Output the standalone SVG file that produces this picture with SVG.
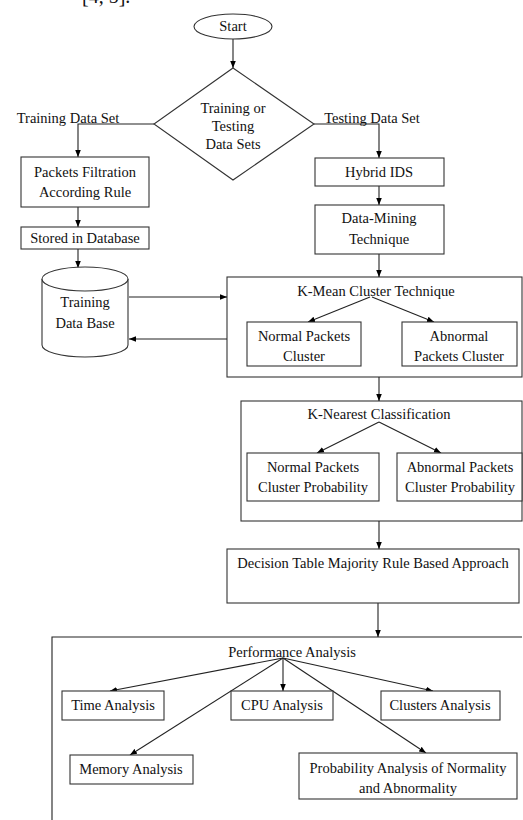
<svg xmlns="http://www.w3.org/2000/svg" width="523" height="820" viewBox="0 0 523 820">
<defs>
<marker id="ah" viewBox="0 0 10 10" refX="10" refY="5" markerWidth="7" markerHeight="7" markerUnits="userSpaceOnUse" orient="auto">
<path d="M0,1 L10,5 L0,9 z" fill="#000"/>
</marker>
<style>
.s{fill:#fff;stroke:#333;stroke-width:1.1}
.c{fill:none;stroke:#222;stroke-width:1.1}
.a{fill:none;stroke:#222;stroke-width:1.1;marker-end:url(#ah)}
text{font-family:"Liberation Serif","Times New Roman",serif;font-size:14.5px;fill:#111;text-anchor:middle}
.l{text-anchor:start}
</style>
</defs>
<rect width="523" height="820" fill="#fff"/>
<text class="l" x="82" y="3" style="font-size:20px">[4, 5].</text>
<g id="containers">
<g id="kmean"><rect class="s" x="227" y="277" width="295" height="100"/><text x="376" y="296">K-Mean Cluster Technique</text></g>
<g id="knearest"><rect class="s" x="241" y="401" width="281" height="120"/><text x="379" y="419">K-Nearest Classification</text></g>
<g id="perf"><path class="c" d="M522,637 H52 V820"/><text x="292" y="657">Performance Analysis</text></g>
</g>
<g id="connectors">
<path class="a" d="M233,39 V68"/>
<path class="a" d="M154,124 H78 V157"/>
<path class="a" d="M314,124 H379 V158"/>
<path class="a" d="M78,207 V227"/>
<path class="a" d="M78,249 V268"/>
<path class="a" d="M379,186 V205"/>
<path class="a" d="M379,254 V277"/>
<path class="a" d="M129,297 H227"/>
<path class="a" d="M227,339 H129"/>
<path class="a" d="M370,297 L308,322"/>
<path class="a" d="M372,297 L434,322"/>
<path class="a" d="M379,377 V401"/>
<path class="a" d="M379,422 L317,453"/>
<path class="a" d="M379,422 L441,453"/>
<path class="a" d="M379,521 V549"/>
<path class="a" d="M378,603 V637"/>
<path class="a" d="M283,658 L110,691"/>
<path class="a" d="M283,658 V691"/>
<path class="a" d="M283,658 L433,691"/>
<path class="a" d="M283,658 L130,755"/>
<path class="a" d="M283,658 L426,753"/>
</g>
<g id="start"><ellipse class="s" cx="233" cy="26.5" rx="39" ry="12.5"/><text x="233" y="31">Start</text></g>
<g id="decision"><path class="s" d="M233,68 L314,124 L233,180 L154,124 z"/>
<text x="233" y="113">Training or</text><text x="233" y="131">Testing</text><text x="233" y="149">Data Sets</text></g>
<g id="lbl-train"><text x="68" y="123">Training Data Set</text></g>
<g id="lbl-test"><text x="372" y="123">Testing Data Set</text></g>
<g id="filtration"><rect class="s" x="21" y="157" width="128" height="50"/><text x="85" y="177">Packets Filtration</text><text x="85" y="197">According Rule</text></g>
<g id="stored"><rect class="s" x="21" y="227" width="128" height="22"/><text x="85" y="243">Stored in Database</text></g>
<g id="db"><path class="s" d="M42,279 V345 A43,12 0 0 0 128,345 V279"/><ellipse class="s" cx="85" cy="279" rx="43" ry="12"/>
<text x="85" y="307">Training</text><text x="85" y="328">Data Base</text></g>
<g id="hybrid"><rect class="s" x="315" y="158" width="129" height="28"/><text x="379" y="177">Hybrid IDS</text></g>
<g id="datamining"><rect class="s" x="315" y="205" width="129" height="49"/><text x="379" y="223">Data-Mining</text><text x="379" y="244">Technique</text></g>
<g id="normal-cluster"><rect class="s" x="247" y="322" width="114" height="44"/><text x="304" y="341">Normal Packets</text><text x="304" y="361">Cluster</text></g>
<g id="abnormal-cluster"><rect class="s" x="402" y="322" width="115" height="44"/><text x="459" y="341">Abnormal</text><text x="459" y="361">Packets Cluster</text></g>
<g id="normal-prob"><rect class="s" x="247" y="453" width="132" height="48"/><text x="313" y="472">Normal Packets</text><text x="313" y="492">Cluster Probability</text></g>
<g id="abnormal-prob"><rect class="s" x="397" y="453" width="125" height="48"/><text x="460" y="472">Abnormal Packets</text><text x="460" y="492">Cluster Probability</text></g>
<g id="decision-table"><rect class="s" x="227" y="549" width="292" height="54"/><text x="373" y="568">Decision Table Majority Rule Based Approach</text></g>
<g id="time"><rect class="s" x="62" y="691" width="102" height="29"/><text x="113" y="710">Time Analysis</text></g>
<g id="cpu"><rect class="s" x="231" y="691" width="102" height="29"/><text x="282" y="710">CPU Analysis</text></g>
<g id="clusters"><rect class="s" x="381" y="691" width="119" height="29"/><text x="440" y="710">Clusters Analysis</text></g>
<g id="memory"><rect class="s" x="70" y="755" width="123" height="29"/><text x="131" y="774">Memory Analysis</text></g>
<g id="probability"><rect class="s" x="299" y="753" width="218" height="46"/><text x="408" y="773">Probability Analysis of Normality</text><text x="408" y="793">and Abnormality</text></g>
</svg>
